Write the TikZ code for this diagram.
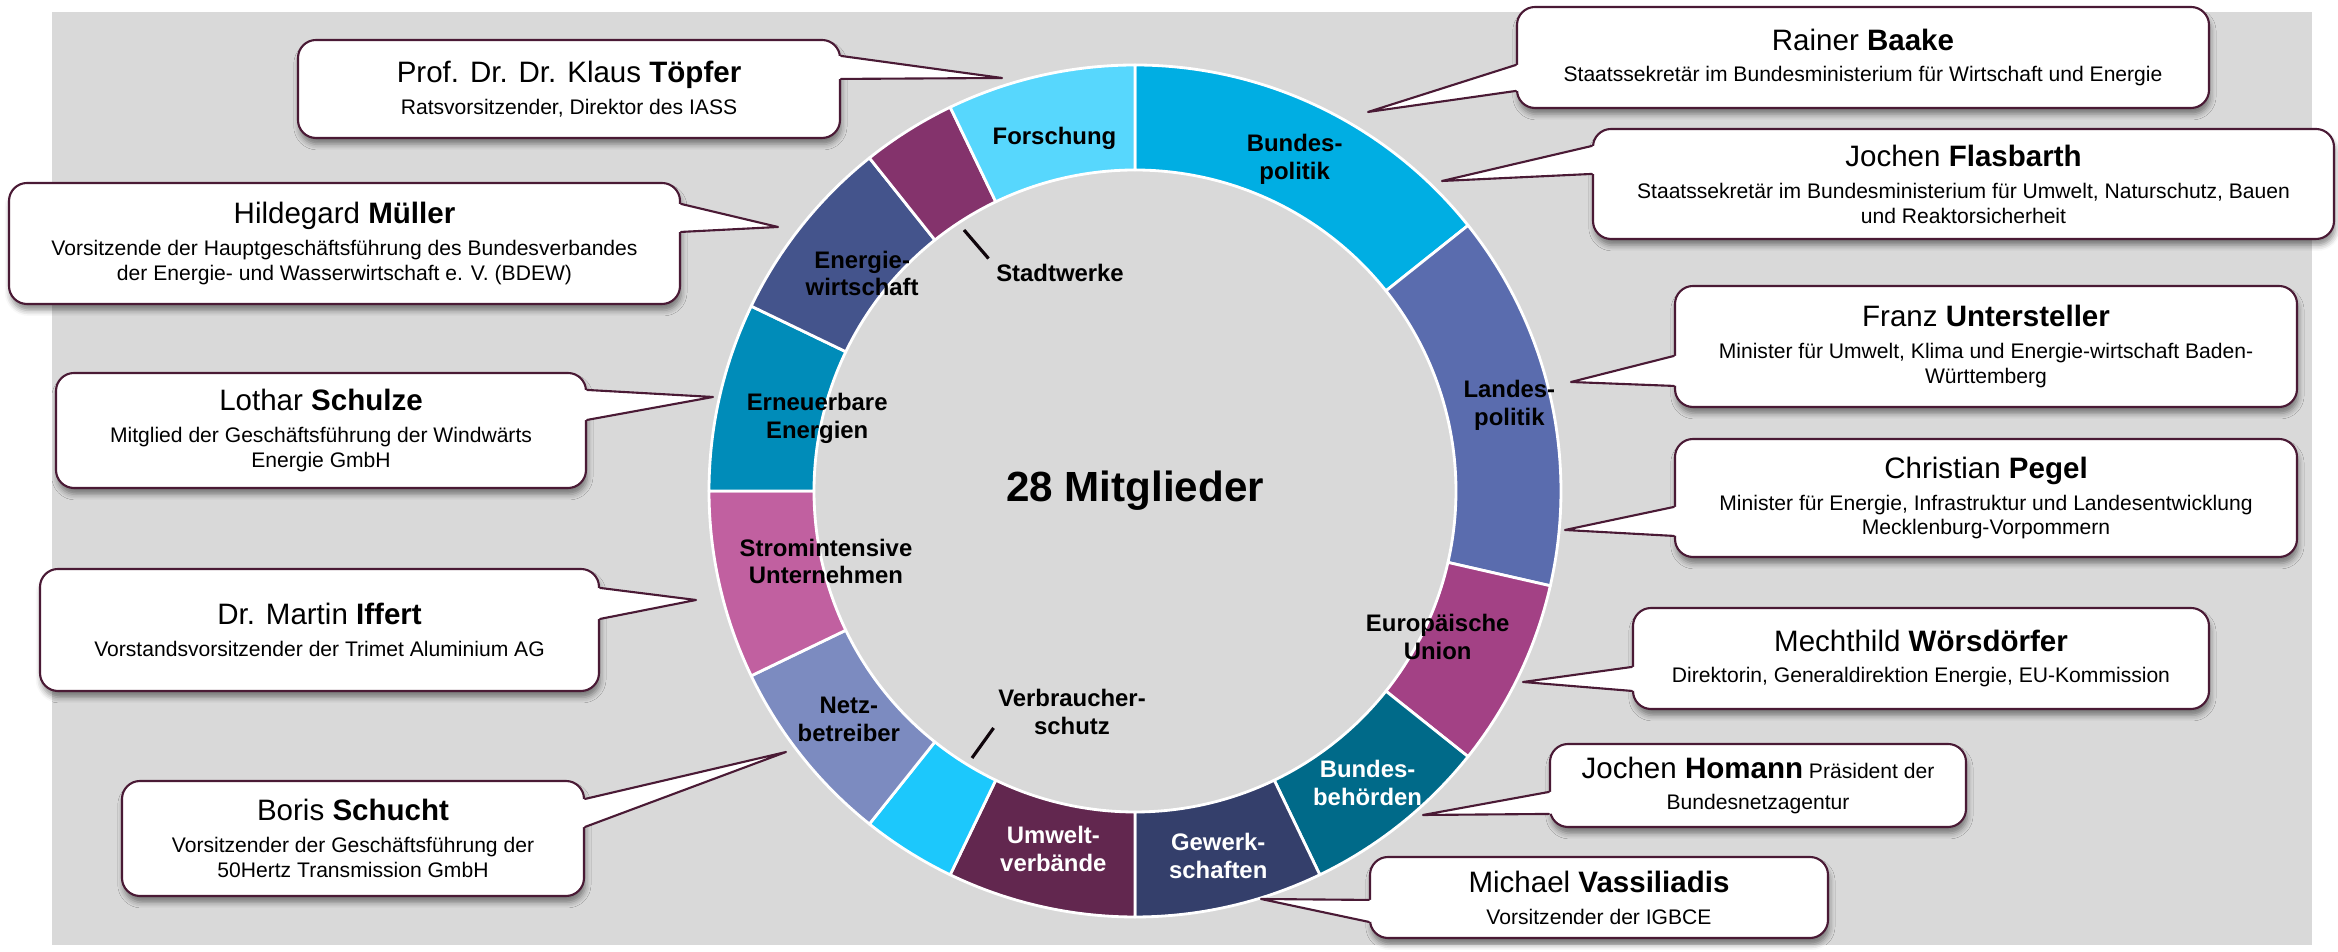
\documentclass[tikz,border=0pt]{standalone}
\usepackage{fontspec}
\setmainfont{Liberation Sans}
\usetikzlibrary{calc,shadows.blur}
\definecolor{bggray}{HTML}{D9D9D9}
\definecolor{rim}{HTML}{4A1A35}
\definecolor{cBundes}{HTML}{00AEE3}
\definecolor{cLandes}{HTML}{5A6CAE}
\definecolor{cEU}{HTML}{A34185}
\definecolor{cBehoerden}{HTML}{006A89}
\definecolor{cGewerk}{HTML}{343F6B}
\definecolor{cUmwelt}{HTML}{62274F}
\definecolor{cVerbr}{HTML}{1CC8FC}
\definecolor{cNetz}{HTML}{7C8BC0}
\definecolor{cStrom}{HTML}{C160A0}
\definecolor{cErneu}{HTML}{008CB9}
\definecolor{cEnergie}{HTML}{44548C}
\definecolor{cStadtw}{HTML}{84336C}
\definecolor{cForsch}{HTML}{57D7FD}
\newcommand\who[2]{{\fontsize{8.4}{10}\selectfont #1 \textbf{#2}}}
\tikzset{
  memberbox/.style={draw=rim,line width=0.6pt,fill=white,rounded corners=1.8mm,inner sep=0pt,align=center,
    font=\fontsize{6}{7.1}\selectfont,
    blur shadow={shadow xshift=0.4pt,shadow yshift=-1.8pt,shadow blur radius=1.6pt,shadow opacity=45}},
  boxtip/.style={draw=rim,line width=0.6pt,line cap=round},
  seglabel/.style={align=center,inner sep=0pt,font=\fontsize{6.8}{7.9}\selectfont\bfseries},
  leader/.style={draw=black!80!rim,line width=0.9pt},
}
\begin{document}
\begin{tikzpicture}[x=0.1mm,y=0.1mm,line join=round]
\useasboundingbox (0,0) rectangle (2338,952);
\fill[bggray] (52,7) rectangle (2312,940);
% ring of 28 seats
\begin{scope}[shift={(1135,461)}]
\foreach \n/\a/\b/\col in {bundes/0/4/cBundes,landes/4/8/cLandes,eu/8/10/cEU,behoerden/10/12/cBehoerden,
  gewerk/12/14/cGewerk,umwelt/14/16/cUmwelt,verbr/16/17/cVerbr,netz/17/19/cNetz,strom/19/21/cStrom,
  erneu/21/23/cErneu,energie/23/25/cEnergie,stadtw/25/26/cStadtw,forsch/26/28/cForsch}{
\pgfmathsetmacro{\sa}{90-\a*360/28}
\pgfmathsetmacro{\ea}{90-\b*360/28}
\filldraw[fill=\col,draw=white,line width=0.8pt] (\sa:42.6mm) arc[start angle=\sa,end angle=\ea,radius=42.6mm]
  --(\ea:32.1mm) arc[start angle=\ea,end angle=\sa,radius=32.1mm]--cycle;
}
\foreach \n/\m/\r/\tc/\txt in {bundes/2/36.8/black/{Bundes-\\politik},landes/6/38.4/black/{Landes-\\politik},
  eu/9/33.6/black/{Europäische\\Union},behoerden/11/37.3/white/{Bundes-\\behörden},
  gewerk/13/37.4/white/{Gewerk-\\schaften},umwelt/15/36.7/white/{Umwelt-\\verbände},
  netz/18/36.6/black/{Netz-\\betreiber},strom/20/31.7/black/{Stromintensive\\Unternehmen},
  erneu/22/32.6/black/{Erneuerbare\\Energien},energie/24/34.9/black/{Energie-\\wirtschaft},
  forsch/27/36.2/black/{Forschung}}{
\pgfmathsetmacro{\ma}{90-\m*360/28}
\node[seglabel,text=\tc] (lbl-\n) at (\ma:\r mm) {\txt};
}
\node[font=\fontsize{12}{14}\selectfont\bfseries] (total) at (0,0) {28 Mitglieder};
\end{scope}
\node[seglabel] (lbl-stadtw) at (1060,679) {Stadtwerke};
\node[seglabel] (lbl-verbr) at (1072,240) {Verbraucher-\\schutz};
\coordinate (stadtw-tick) at (964,722);
\coordinate (verbr-tick) at (972,194);
\draw[leader] (stadtw-tick)--([shift={(-7,5)}]lbl-stadtw.north west);
\draw[leader] (verbr-tick)--([shift={(-4,-16)}]lbl-verbr.west);
% members
\foreach \n/\cx/\cy/\w/\h/\s/\da/\db/\tx/\ty/\txt in {
  topfer/569/863/542/98/east/17/40/1002/874/{\who{Prof. Dr. Dr. Klaus}{Töpfer}\\[2pt]Ratsvorsitzender, Direktor des IASS},
  muller/344.5/708.5/671/121/east/22/50/778/725/{\who{Hildegard}{Müller}\\[2pt]Vorsitzende der Hauptgeschäftsführung des Bundesverbandes\\der Energie- und Wasserwirtschaft e. V. (BDEW)},
  schulze/321/521.5/530/115/east/18/48/713/555/{\who{Lothar}{Schulze}\\[2pt]Mitglied der Geschäftsführung der Windwärts\\Energie GmbH},
  iffert/319.5/322/559/122/east/20/51/696/352/{\who{Dr. Martin}{Iffert}\\[2pt]Vorstandsvorsitzender der Trimet Aluminium AG},
  schucht/353/113.5/462/115/east/19/47/786/200/{\who{Boris}{Schucht}\\[2pt]Vorsitzender der Geschäftsführung der\\50Hertz Transmission GmbH},
  baake/1863/894.5/692/101/west/59/85/1368/840/{\who{Rainer}{Baake}\\[2pt]Staatssekretär im Bundesministerium für Wirtschaft und Energie},
  flasbarth/1963.5/768/741/110/west/18/46/1442/771/{\who{Jochen}{Flasbarth}\\[2pt]Staatssekretär im Bundesministerium für Umwelt, Naturschutz, Bauen\\und Reaktorsicherheit},
  unterst/1986/605.5/622/121/west/71/101/1571/570/{\who{Franz}{Untersteller}\\[2pt]Minister für Umwelt, Klima und Energie-wirtschaft Baden-\\Württemberg},
  pegel/1986/454/622/118/west/69/98/1565/422/{\who{Christian}{Pegel}\\[2pt]Minister für Energie, Infrastruktur und Landesentwicklung\\Mecklenburg-Vorpommern},
  worsd/1921/293.5/576/101/west/60/84/1523/270/{\who{Mechthild}{Wörsdörfer}\\[2pt]Direktorin, Generaldirektion Energie, EU-Kommission},
  homann/1758/166.5/416/83/west/49/71/1423/137/{\who{Jochen}{Homann} Präsident der\\[2pt]Bundesnetzagentur},
  vassil/1599/54.5/458/81/west/44/66/1261/53/{\who{Michael}{Vassiliadis}\\[2pt]Vorsitzender der IGBCE}}{
\node[memberbox,minimum width=\w*0.1mm,minimum height=\h*0.1mm] (\n) at (\cx,\cy) {\txt};
\coordinate (\n-tip) at (\tx,\ty);
\coordinate (\n-a) at ($(\n.north \s)+(0,-\da)$);
\coordinate (\n-b) at ($(\n.north \s)+(0,-\db)$);
\fill[white] ($(\n-a)!0.5mm!(\n.center)$)--(\n-a)--(\n-tip)--(\n-b)--($(\n-b)!0.5mm!(\n.center)$)--cycle;
\draw[boxtip] (\n-a)--(\n-tip)--(\n-b);
}
\end{tikzpicture}
\end{document}
